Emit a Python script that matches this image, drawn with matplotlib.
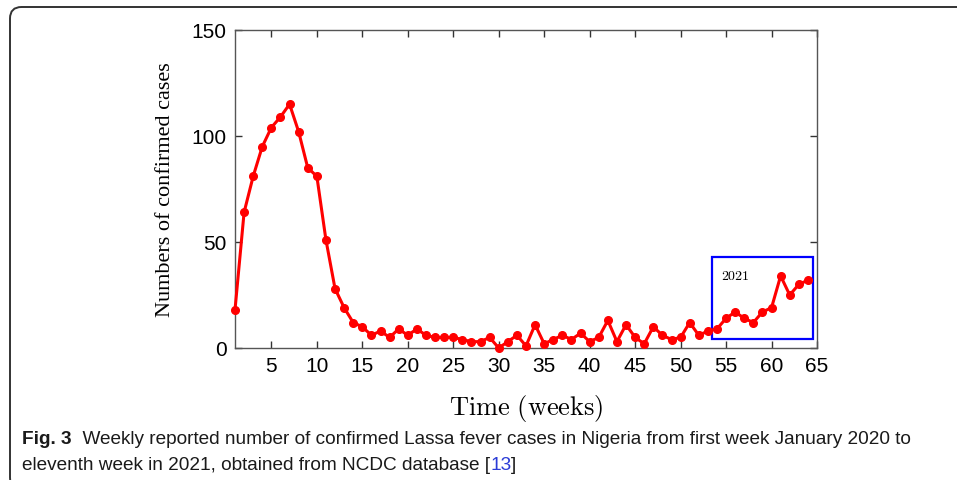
import matplotlib
matplotlib.use('Agg')
import matplotlib.pyplot as plt
from matplotlib.patches import FancyBboxPatch, Rectangle

# weekly confirmed Lassa fever cases, week 1 of 2020 onwards
weeks = list(range(1, 65))
cases = [18, 64, 81, 95, 104, 109, 115, 102, 85, 81,
         51, 28, 19, 12, 10, 6, 8, 5, 9, 6,
         9, 6, 5, 5, 5, 4, 3, 3, 5, 0,
         3, 6, 1, 11, 2, 4, 6, 4, 7, 3,
         5, 13, 3, 11, 5, 2, 10, 6, 4, 5,
         12, 6, 8, 9, 14, 17, 14, 12, 17, 19,
         34, 25, 30, 32]

x_ticks = list(range(5, 70, 5))
y_ticks = [0, 50, 100, 150]

# box marking the 2021 weeks
box_x = (53.5, 64.55)
box_y = (4.2, 42.8)

plt.rcParams['mathtext.fontset'] = 'cm'

W, H = 957, 481
fig = plt.figure(figsize=(W / 100, H / 100), dpi=100)

# rounded frame of the figure panel
frame = FancyBboxPatch((10 / W, 1 - 490 / H), 980 / W, 482 / H,
                       boxstyle='round,pad=0,rounding_size=0.012',
                       transform=fig.transFigure, fill=False,
                       edgecolor='#333333', lw=1.4, mutation_aspect=W / H)
fig.patches.append(frame)

ax = fig.add_axes([235 / W, 1 - 349 / H, 582 / W, 318 / H])
ax.plot(weeks, cases, color='red', lw=2.2, marker='o', ms=5.5,
        mfc='red', mec='red', clip_on=False, zorder=3)

ax.add_patch(Rectangle((box_x[0], box_y[0]), box_x[1] - box_x[0], box_y[1] - box_y[0],
                       fill=False, edgecolor='blue', lw=1.6, zorder=2))
ax.text(54.4, 34.5, r'$\mathrm{2021}$', fontsize=10, va='center', ha='left')

ax.set_xlim(1, 65)
ax.set_ylim(0, 150)
ax.set_xticks(x_ticks)
ax.set_yticks(y_ticks)
ax.tick_params(direction='in', top=True, right=True, length=5, width=1,
               color='#333333', labelsize=15, pad=6)
for lab in ax.get_xticklabels() + ax.get_yticklabels():
    lab.set_family('Liberation Sans')
for sp in ax.spines.values():
    sp.set_color('#555555')
    sp.set_linewidth(1.0)

ax.set_ylabel('Numbers of confirmed cases', family='Liberation Serif',
              fontsize=16, labelpad=12)
ax.set_xlabel(r'$\mathrm{Time\ (weeks)}$', fontsize=19, labelpad=12)

# caption
cap_font = ['Liberation Sans Narrow', 'Liberation Sans']
cap_size = 13.7
t1 = fig.text(22 / W, 1 - 444 / H, 'Fig. 3', family=cap_font, weight='bold',
              fontsize=cap_size, color='#1a1a1a', va='baseline')
ax.annotate('  Weekly reported number of confirmed Lassa fever cases in Nigeria from first week January 2020 to',
            xy=(1, 0), xycoords=t1, va='bottom', ha='left',
            family=cap_font, fontsize=cap_size, color='#1a1a1a', annotation_clip=False)
t3 = fig.text(22 / W, 1 - 470 / H, 'eleventh week in 2021, obtained from NCDC database [',
              family=cap_font, fontsize=cap_size, color='#1a1a1a', va='baseline')
t4 = ax.annotate('13', xy=(1, 0), xycoords=t3, va='bottom', ha='left',
                 family=cap_font, fontsize=cap_size, color='#2a3bd6', annotation_clip=False)
ax.annotate(']', xy=(1, 0), xycoords=t4, va='bottom', ha='left',
            family=cap_font, fontsize=cap_size, color='#1a1a1a', annotation_clip=False)

fig.savefig('out.png', dpi=100)
